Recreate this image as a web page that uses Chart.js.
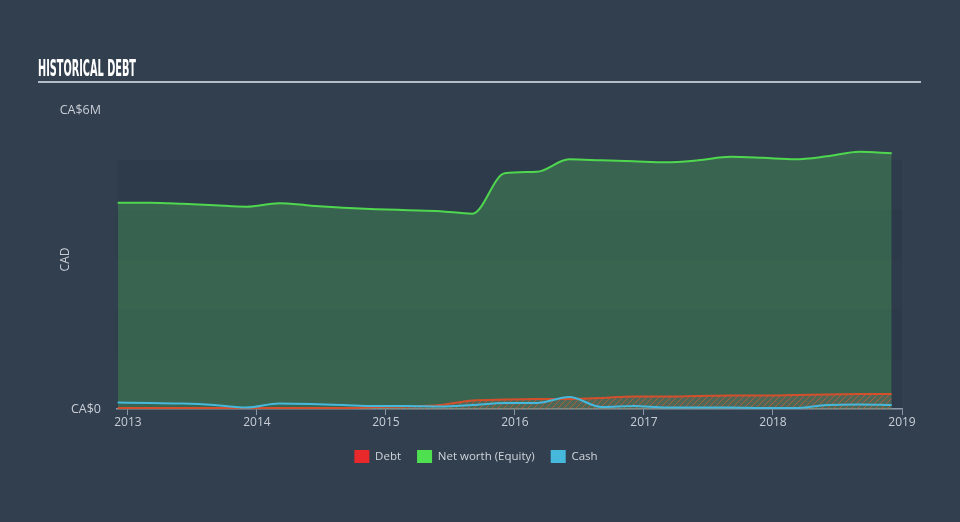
<!DOCTYPE html>
<html>
<head>
<meta charset="utf-8">
<script src="https://cdn.jsdelivr.net/npm/chart.js@4.4.1/dist/chart.umd.min.js"></script>
<style>
  html, body { margin: 0; padding: 0; background: #323f4f; }
  #wrap { width: 960px; height: 522px; position: relative; }
</style>
</head>
<body>
<div id="wrap"><canvas id="myChart" width="960" height="522"></canvas></div>
<script>
// data (decimal years, values in CAD)
const dates = [2012.92, 2013.17, 2013.42, 2013.67, 2013.92, 2014.17, 2014.42, 2014.67, 2014.92,
  2015.17, 2015.42, 2015.67, 2015.92, 2016.17, 2016.42, 2016.67, 2016.92, 2017.17, 2017.42,
  2017.67, 2017.92, 2018.17, 2018.42, 2018.67, 2018.92];
const debt = [0.02, 0.02, 0.02, 0.02, 0.02, 0.02, 0.02, 0.02, 0.04, 0.05, 0.08, 0.17, 0.19,
  0.2, 0.2, 0.22, 0.25, 0.25, 0.26, 0.27, 0.27, 0.28, 0.29, 0.3, 0.3];
const equity = [4.14, 4.14, 4.12, 4.09, 4.06, 4.13, 4.08, 4.04, 4.01, 3.99, 3.97, 3.92, 4.73,
  4.76, 5.01, 4.99, 4.97, 4.95, 4.99, 5.06, 5.04, 5.01, 5.07, 5.16, 5.13];
const cash = [0.13, 0.12, 0.11, 0.08, 0.03, 0.11, 0.10, 0.08, 0.06, 0.06, 0.05, 0.08, 0.12,
  0.12, 0.24, 0.04, 0.06, 0.03, 0.03, 0.03, 0.02, 0.02, 0.08, 0.09, 0.08];
const yearTicks = [2013, 2014, 2015, 2016, 2017, 2018, 2019];
const yTicks = [0, 6e6];
const seriesNames = ['Debt', 'Net worth (Equity)', 'Cash'];
const legendColors = ['#e8282b', '#4fe04f', '#45b8dc'];

const pts = arr => dates.map((d, i) => ({ x: d, y: arr[i] * 1e6 }));

function hatch() {
  const c = document.createElement('canvas');
  c.width = 6; c.height = 6;
  const g = c.getContext('2d');
  g.fillStyle = 'rgba(120,110,100,0.35)';
  g.fillRect(0, 0, 6, 6);
  g.strokeStyle = 'rgba(200,95,55,0.75)';
  g.lineWidth = 1;
  g.beginPath();
  g.moveTo(0, 6); g.lineTo(6, 0);
  g.moveTo(-1, 1); g.lineTo(1, -1);
  g.moveTo(5, 7); g.lineTo(7, 5);
  g.stroke();
  return g.createPattern(c, 'repeat');
}

// background bands + title
const decor = {
  id: 'decor',
  beforeDraw(chart) {
    const { ctx, chartArea: a, scales: { y } } = chart;
    ctx.save();
    ctx.fillStyle = '#323f4f';
    ctx.fillRect(0, 0, chart.width, chart.height);
    for (let i = 0; i < 5; i++) {
      const top = y.getPixelForValue((i + 1) * 1e6), bot = y.getPixelForValue(i * 1e6);
      ctx.fillStyle = i % 2 === 0 ? '#2e3b4b' : '#2c3949';
      ctx.fillRect(a.left, top, a.right - a.left, bot - top);
    }
    // title
    ctx.font = 'bold 23px "Liberation Sans Narrow", "DejaVu Sans Condensed", sans-serif';
    ctx.fillStyle = '#ffffff';
    ctx.textBaseline = 'alphabetic';
    const w = ctx.measureText('HISTORICAL DEBT').width;
    ctx.translate(38, 76);
    ctx.scale(98 / w, 1);
    ctx.fillText('HISTORICAL DEBT', 0, 0);
    ctx.setTransform(1, 0, 0, 1, 0, 0);
    ctx.strokeStyle = '#b4bcc6';
    ctx.lineWidth = 2;
    ctx.beginPath();
    ctx.moveTo(38, 82); ctx.lineTo(921, 82);
    ctx.stroke();
    ctx.restore();
  }
};

const data = {
  datasets: [{
    label: seriesNames[0],
    data: pts(debt),
    borderColor: '#d4502c',
    backgroundColor: hatch(),
    borderWidth: 2,
    fill: 'origin',
    order: 2
  }, {
    label: seriesNames[1],
    data: pts(equity),
    borderColor: '#4fd84f',
    backgroundColor: 'rgba(82,194,92,0.3)',
    borderWidth: 2,
    fill: 'origin',
    order: 3
  }, {
    label: seriesNames[2],
    data: pts(cash),
    borderColor: '#45b8dc',
    backgroundColor: '#45b8dc',
    borderWidth: 2,
    fill: false,
    order: 1
  }]
};

const config = {
  type: 'line',
  data: data,
  plugins: [decor],
  options: {
    responsive: false,
    animation: false,
    layout: { padding: { top: 110, right: 58, bottom: 49, left: 50 } },
    elements: { point: { radius: 0 }, line: { cubicInterpolationMode: 'monotone' } },
    scales: {
      x: {
        type: 'linear',
        min: 2012.915,
        max: 2019,
        afterBuildTicks: s => { s.ticks = yearTicks.map(v => ({ value: v })); },
        afterFit: s => { s.height = 25; },
        grid: { display: true, drawOnChartArea: false, color: '#8e99a8', tickLength: 6 },
        border: { color: '#8e99a8', width: 1.5 },
        ticks: { color: '#c9ced6', font: { family: 'Open Sans', size: 12 }, padding: 0, maxRotation: 0,
          callback: v => String(v) }
      },
      y: {
        min: 0,
        max: 6e6,
        afterBuildTicks: s => { s.ticks = yTicks.map(v => ({ value: v })); },
        afterFit: s => { s.width = 67; },
        grid: { display: false },
        border: { display: false },
        ticks: { color: '#c9ced6', font: { family: 'Open Sans', size: 12.5 }, padding: 8,
          callback: v => v === 0 ? 'CA$0' : 'CA$' + (v / 1e6) + 'M' },
        title: { display: true, text: 'CAD', color: '#c9ced6', font: { family: 'Open Sans', size: 12 },
          padding: { top: 8, bottom: 0 } }
      }
    },
    plugins: {
      legend: {
        position: 'bottom',
        labels: {
          color: '#d0d5db',
          font: { family: 'Open Sans', size: 11.5 },
          boxWidth: 15,
          boxHeight: 13,
          padding: 16,
          generateLabels: chart => seriesNames.map((n, i) => ({
            text: n, fillStyle: legendColors[i], strokeStyle: legendColors[i], lineWidth: 0,
            datasetIndex: i, hidden: false, fontColor: '#d0d5db'
          }))
        }
      },
      tooltip: { enabled: false }
    }
  }
};

const myChart = new Chart(document.getElementById('myChart'), config);
</script>
</body>
</html>
